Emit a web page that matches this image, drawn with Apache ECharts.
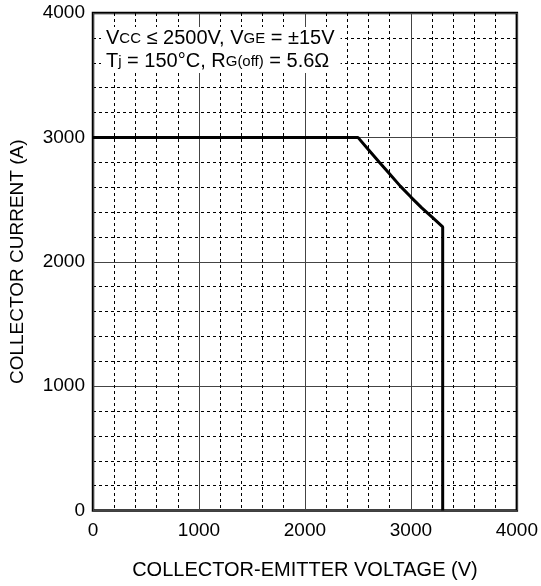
<!DOCTYPE html>
<html>
<head>
<meta charset="utf-8">
<script src="https://cdn.jsdelivr.net/npm/echarts@6/dist/echarts.min.js"></script>
<style>
html, body { margin: 0; padding: 0; background: #fff; }
#chart { width: 541px; height: 586px; }
</style>
</head>
<body>
<div id="chart"></div>
<script>
// RBSOA curve
var voltage = [0, 2500, 2600, 2700, 2800, 2900, 3000, 3100, 3200, 3300, 3300];
var current = [3000, 3000, 2900, 2802, 2705, 2608, 2520, 2435, 2358, 2280, 0];

var xTicks = [0, 1000, 2000, 3000, 4000];
var yTicks = [0, 1000, 2000, 3000, 4000];

var font = 'Liberation Sans, Arial, Helvetica, sans-serif';

var chart = echarts.init(document.getElementById('chart'));

var points = [];
for (var i = 0; i < voltage.length; i++) {
	points.push([voltage[i], current[i]]);
}

var option = {
	animation: false,
	textStyle: { fontFamily: font },
	grid: {
		left: 92, right: 23, top: 13, bottom: 75.5,
		show: true, borderColor: '#000', borderWidth: 2.5, backgroundColor: '#fff'
	},
	title: {
		left: 101, top: 24,
		padding: [1, 6, 2, 5],
		backgroundColor: '#fff',
		text: '{v|V}{s|CC}{v| ≤ 2500V, V}{s|GE}{v| = ±15V}\n{v|T}{s|j}{v| = 150°C, R}{s|G(off)}{v| = 5.6Ω}',
		textStyle: {
			fontWeight: 'normal',
			rich: {
				v: { fontFamily: font, fontSize: 20, fontWeight: 'normal', color: '#000', lineHeight: 23, verticalAlign: 'bottom' },
				s: { fontFamily: font, fontSize: 15, fontWeight: 'normal', color: '#000', lineHeight: 20, verticalAlign: 'bottom', padding: [0, 0, 1.5, 0] }
			}
		}
	},
	xAxis: {
		type: 'value', min: 0, max: 4000, interval: 1000,
		name: 'COLLECTOR-EMITTER VOLTAGE (V)', nameLocation: 'middle', nameGap: 50,
		nameTextStyle: { fontFamily: font, fontSize: 20, color: '#000' },
		axisLine: { show: false },
		axisTick: { show: false },
		axisLabel: {
			fontFamily: font, fontSize: 19, color: '#000', margin: 11,
			formatter: function (v) { return xTicks.indexOf(v) >= 0 ? String(v) : ''; }
		},
		splitLine: { show: true, lineStyle: { color: '#444', width: 1 } },
		minorTick: { show: false, splitNumber: 5 },
		minorSplitLine: { show: true, lineStyle: { color: '#000', width: 1, type: [3, 3] } }
	},
	yAxis: {
		type: 'value', min: 0, max: 4000, interval: 1000,
		name: 'COLLECTOR CURRENT (A)', nameLocation: 'middle', nameGap: 66,
		nameTextStyle: { fontFamily: font, fontSize: 19, color: '#000' },
		axisLine: { show: false },
		axisTick: { show: false },
		axisLabel: {
			fontFamily: font, fontSize: 19, color: '#000', margin: 8,
			formatter: function (v) { return yTicks.indexOf(v) >= 0 ? String(v) : ''; }
		},
		splitLine: { show: true, lineStyle: { color: '#444', width: 1 } },
		minorTick: { show: false, splitNumber: 5 },
		minorSplitLine: { show: true, lineStyle: { color: '#000', width: 1, type: [3, 3] } }
	},
	series: [
		{
			type: 'line',
			data: points,
			showSymbol: false,
			symbol: 'none',
			lineStyle: { color: '#000', width: 3 },
			z: 3
		}
	]
};

chart.setOption(option);
</script>
</body>
</html>
